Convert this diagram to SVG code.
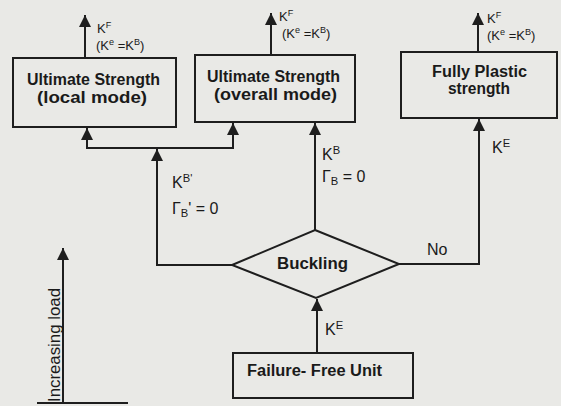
<svg xmlns="http://www.w3.org/2000/svg" width="561" height="406" viewBox="0 0 561 406">
<style>
.bg{fill:#e9e9e6}
.box{fill:none;stroke:#1e1e1e;stroke-width:2}
.ln{fill:none;stroke:#1e1e1e;stroke-width:2}
.bt{font-family:"Liberation Sans",Arial,sans-serif;font-weight:bold;font-size:16px;fill:#1a1a1a}
.lb{font-family:"Liberation Sans",Arial,sans-serif;font-size:16px;fill:#1a1a1a}
.sm{font-family:"Liberation Sans",Arial,sans-serif;font-size:13px;fill:#1a1a1a}
.sup{font-size:70%}
</style>
<defs>
<marker id="ah" markerUnits="userSpaceOnUse" markerWidth="12" markerHeight="12" refX="10" refY="5" orient="auto" viewBox="0 0 10 10">
<path d="M0,0 L10,5 L0,10 z" fill="#1e1e1e"/>
</marker>
</defs>
<rect class="bg" x="0" y="0" width="561" height="406"/>

<g id="connectors">
<line class="ln" x1="85" y1="58" x2="85" y2="15" marker-end="url(#ah)"/>
<line class="ln" x1="271" y1="55" x2="271" y2="13" marker-end="url(#ah)"/>
<line class="ln" x1="478" y1="52" x2="478" y2="13" marker-end="url(#ah)"/>
<polyline class="ln" points="232,265 157,265 157,149" marker-end="url(#ah)"/>
<line class="ln" x1="86" y1="148" x2="234" y2="148"/>
<line class="ln" x1="87" y1="148" x2="87" y2="128" marker-end="url(#ah)"/>
<line class="ln" x1="233" y1="148" x2="233" y2="123" marker-end="url(#ah)"/>
<line class="ln" x1="315" y1="230" x2="315" y2="123" marker-end="url(#ah)"/>
<polyline class="ln" points="399,264 479,264 479,119" marker-end="url(#ah)"/>
<line class="ln" x1="317" y1="353" x2="317" y2="299" marker-end="url(#ah)"/>
<line class="ln" x1="63" y1="403" x2="63" y2="248" marker-end="url(#ah)"/>
<line class="ln" x1="37" y1="403" x2="128" y2="403" stroke-width="1.5"/>
<text class="sm" x="97" y="33">K<tspan class="sup" dy="-5">F</tspan></text>
<text class="sm" x="96" y="50">(K<tspan class="sup" dy="-5">e</tspan><tspan dy="5"> =K</tspan><tspan class="sup" dy="-5">B</tspan><tspan dy="5">)</tspan></text>
<text class="sm" x="279" y="21">K<tspan class="sup" dy="-5">F</tspan></text>
<text class="sm" x="282" y="38">(K<tspan class="sup" dy="-5">e</tspan><tspan dy="5"> =K</tspan><tspan class="sup" dy="-5">B</tspan><tspan dy="5">)</tspan></text>
<text class="sm" x="487" y="23">K<tspan class="sup" dy="-5">F</tspan></text>
<text class="sm" x="487" y="40">(K<tspan class="sup" dy="-5">e</tspan><tspan dy="5"> =K</tspan><tspan class="sup" dy="-5">B</tspan><tspan dy="5">)</tspan></text>
<text class="lb" x="172" y="188">K<tspan class="sup" dy="-6">B'</tspan></text>
<text class="lb" x="172" y="214">Γ<tspan class="sup" dy="3">B</tspan><tspan dy="-3">' = 0</tspan></text>
<text class="lb" x="322" y="160">K<tspan class="sup" dy="-6">B</tspan></text>
<text class="lb" x="322" y="182">Γ<tspan class="sup" dy="3">B</tspan><tspan dy="-3"> = 0</tspan></text>
<text class="lb" x="492" y="153">K<tspan class="sup" dy="-6">E</tspan></text>
<text class="lb" x="427" y="255">No</text>
<text class="lb" x="325" y="335">K<tspan class="sup" dy="-6">E</tspan></text>
<text class="lb" transform="translate(60,402) rotate(-90)" x="0" y="0" textLength="114" lengthAdjust="spacingAndGlyphs">Increasing load</text>
</g>

<g id="local">
<rect class="box" x="13" y="58" width="163" height="69"/>
<text class="bt" x="27" y="85" textLength="133" lengthAdjust="spacingAndGlyphs">Ultimate Strength</text>
<text class="bt" x="37" y="103" textLength="110" lengthAdjust="spacingAndGlyphs">(local mode)</text>
</g>

<g id="overall">
<rect class="box" x="195" y="55" width="160" height="67"/>
<text class="bt" x="207" y="82" textLength="133" lengthAdjust="spacingAndGlyphs">Ultimate Strength</text>
<text class="bt" x="214" y="100" textLength="123" lengthAdjust="spacingAndGlyphs">(overall mode)</text>
</g>

<g id="plastic">
<rect class="box" x="401" y="52" width="156" height="66"/>
<text class="bt" x="432" y="77" textLength="95" lengthAdjust="spacingAndGlyphs">Fully Plastic</text>
<text class="bt" x="448" y="94" textLength="62" lengthAdjust="spacingAndGlyphs">strength</text>
</g>

<g id="buckling">
<polygon class="box" points="315,230 399,264 316,298 232,265"/>
<text class="bt" x="277" y="269" textLength="71" lengthAdjust="spacingAndGlyphs">Buckling</text>
</g>

<g id="failurefree">
<rect class="box" x="233" y="353" width="180" height="45"/>
<text class="bt" x="247" y="376" textLength="135" lengthAdjust="spacingAndGlyphs">Failure- Free Unit</text>
</g>
</svg>
